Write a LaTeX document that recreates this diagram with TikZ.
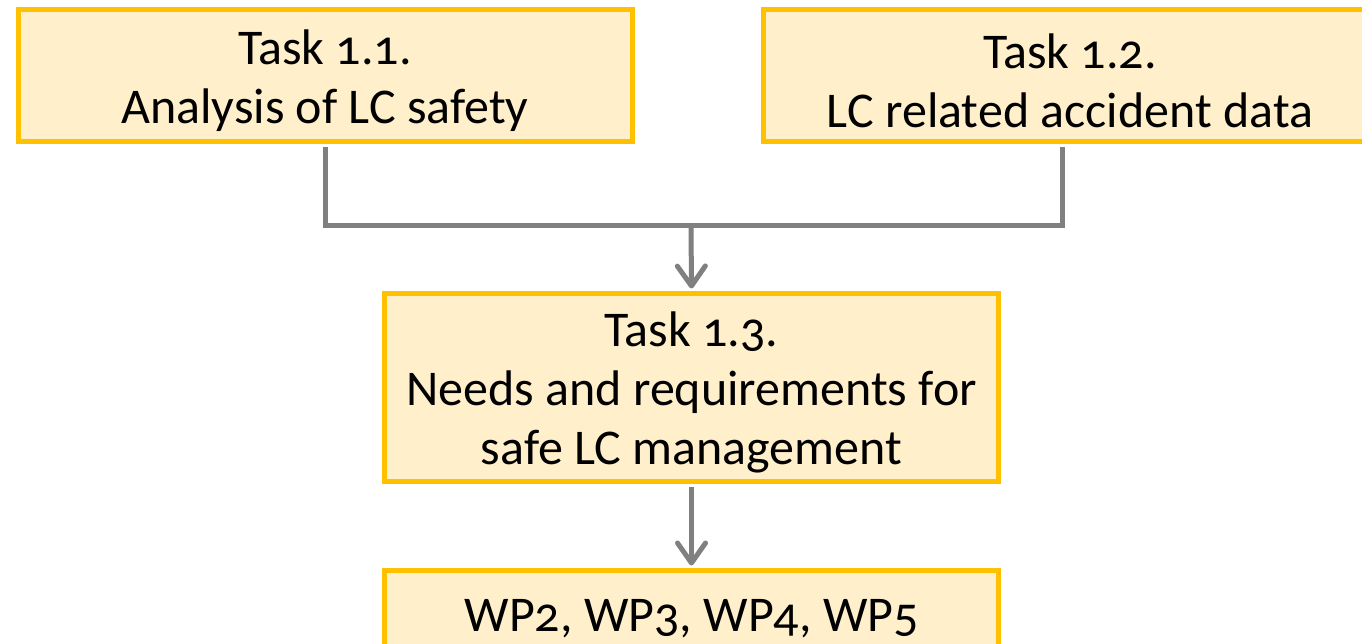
\documentclass[tikz,border=0pt]{standalone}
\usepackage{fontspec}
\setmainfont{Carlito}[Numbers=OldStyle]
\usetikzlibrary{arrows.meta}
\definecolor{boxfill}{HTML}{FFF0CB}
\definecolor{boxline}{HTML}{FFC000}
\definecolor{conn}{HTML}{808080}
\tikzset{
  taskbox/.style={draw=boxline, fill=boxfill, line width=5pt, rectangle, inner sep=0pt},
  tasktext/.style={align=center, inner sep=0pt, yshift=-5pt,
    font=\fontsize{50}{59}\selectfont, text=black},
  link/.style={draw=conn, line width=5pt},
  arrowlink/.style={link, -{Straight Barb[length=20pt,width=28pt,line cap=round,line join=round]}}
}
\begin{document}
\begin{tikzpicture}[x=1pt,y=-1pt]
\useasboundingbox (0,0) rectangle (1362,644);
\clip (0,0) rectangle (1362,644);
\node[taskbox, minimum width=614pt, minimum height=132pt,
  label={[tasktext]center:{Task 1.1.\\Analysis of LC safety}}] (t1) at (325,76) {};
\node[taskbox, minimum width=614pt, minimum height=132pt,
  label={[tasktext]center:{Task 1.2.\\LC related accident data}}] (t2) at (1070,76) {};
\node[taskbox, minimum width=614pt, minimum height=188pt,
  label={[tasktext]center:{Task 1.3.\\Needs and requirements for\\safe LC management}}] (t3) at (691.5,387.5) {};
\node[taskbox, minimum width=614pt, minimum height=90pt,
  label={[tasktext, yshift=2pt]center:{WP2, WP3, WP4, WP5}}] (t4) at (691.5,615.5) {};
\coordinate (j) at (691,226);
\draw[link] ([yshift=-2.5pt]t1.south) |- (j) -| ([xshift=-8pt,yshift=-2.5pt]t2.south);
\draw[arrowlink] (j) -- ([yshift=2.5pt]t3.north);
\draw[arrowlink] ([yshift=-2.5pt]t3.south) -- ([yshift=2.5pt]t4.north);
\end{tikzpicture}
\end{document}
